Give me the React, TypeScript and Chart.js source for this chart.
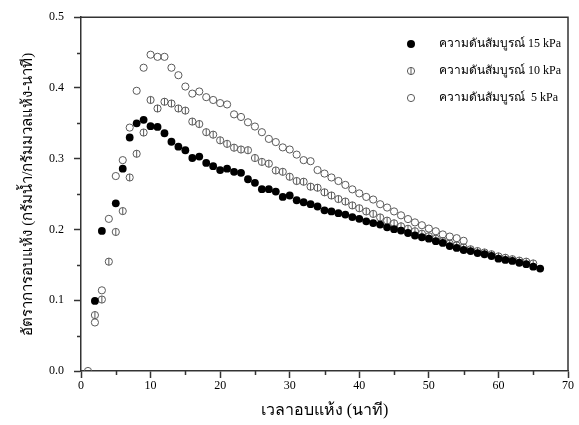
import React, { useEffect, useRef } from "react";
import { Chart, registerables } from "chart.js";

Chart.register(...registerables);

const FONT = "'Liberation Serif', 'Times New Roman', serif";

const xTitle = "เวลาอบแห้ง (นาที)";
const yTitle = "อัตราการอบแห้ง (กรัมน้ำ/กรัมมวลแห้ง-นาที)";

const labels = ["ความดันสัมบูรณ์ 15 kPa", "ความดันสัมบูรณ์ 10 kPa", "ความดันสัมบูรณ์  5 kPa"];

const xMinorTicks = [5, 15, 25, 35, 45, 55, 65];
const yMinorTicks = [0.05, 0.15, 0.25, 0.35, 0.45];

// 15 kPa (filled)
const time15 = [2, 3, 5, 6, 7, 8, 9, 10, 11, 12, 13, 14, 15, 16, 17, 18, 19, 20, 21, 22, 23, 24, 25, 26, 27, 28, 29, 30, 31, 32, 33, 34, 35, 36, 37, 38, 39, 40, 41, 42, 43, 44, 45, 46, 47, 48, 49, 50, 51, 52, 53, 54, 55, 56, 57, 58, 59, 60, 61, 62, 63, 64, 65, 66];
const rate15 = [0.099, 0.198, 0.237, 0.286, 0.330, 0.350, 0.355, 0.346, 0.345, 0.336, 0.324, 0.317, 0.312, 0.301, 0.303, 0.294, 0.2895, 0.284, 0.286, 0.2815, 0.280, 0.271, 0.266, 0.257, 0.257, 0.2535, 0.246, 0.248, 0.2413, 0.2385, 0.2357, 0.2325, 0.227, 0.2255, 0.223, 0.221, 0.2175, 0.215, 0.2115, 0.209, 0.207, 0.203, 0.2005, 0.1985, 0.195, 0.1915, 0.189, 0.187, 0.1835, 0.181, 0.1765, 0.174, 0.171, 0.1695, 0.1667, 0.165, 0.1625, 0.1587, 0.157, 0.1555, 0.153, 0.151, 0.1475, 0.1447];

// 10 kPa (circle with bar)
const time10 = [2, 3, 4, 5, 6, 7, 8, 9, 10, 11, 12, 13, 14, 15, 16, 17, 18, 19, 20, 21, 22, 23, 24, 25, 26, 27, 28, 29, 30, 31, 32, 33, 34, 35, 36, 37, 38, 39, 40, 41, 42, 43, 44, 45, 46, 47, 48, 49, 50, 51, 52, 53, 54, 55, 56, 57, 58, 59, 60, 61, 62, 63, 64, 65];
const rate10 = [0.079, 0.101, 0.1545, 0.1965, 0.226, 0.2735, 0.307, 0.337, 0.383, 0.371, 0.3805, 0.378, 0.371, 0.368, 0.3525, 0.349, 0.3375, 0.334, 0.326, 0.321, 0.3156, 0.313, 0.312, 0.301, 0.2955, 0.293, 0.2834, 0.2815, 0.2745, 0.2685, 0.2675, 0.2605, 0.259, 0.2525, 0.248, 0.243, 0.2395, 0.234, 0.230, 0.2255, 0.222, 0.217, 0.2125, 0.2087, 0.2045, 0.201, 0.1975, 0.194, 0.1905, 0.187, 0.1835, 0.180, 0.1775, 0.1745, 0.172, 0.1695, 0.1675, 0.165, 0.162, 0.160, 0.158, 0.156, 0.1545, 0.152];

// 5 kPa (open)
const time5 = [1, 2, 3, 4, 5, 6, 7, 8, 9, 10, 11, 12, 13, 14, 15, 16, 17, 18, 19, 20, 21, 22, 23, 24, 25, 26, 27, 28, 29, 30, 31, 32, 33, 34, 35, 36, 37, 38, 39, 40, 41, 42, 43, 44, 45, 46, 47, 48, 49, 50, 51, 52, 53, 54, 55];
const rate5 = [0.0, 0.0686, 0.114, 0.215, 0.2755, 0.298, 0.344, 0.396, 0.4286, 0.447, 0.444, 0.444, 0.4286, 0.418, 0.402, 0.392, 0.395, 0.387, 0.383, 0.3786, 0.3767, 0.3627, 0.359, 0.3515, 0.3455, 0.3375, 0.328, 0.3235, 0.316, 0.313, 0.3058, 0.298, 0.2965, 0.284, 0.279, 0.2735, 0.2685, 0.263, 0.2567, 0.251, 0.246, 0.2423, 0.2357, 0.231, 0.2255, 0.22, 0.2147, 0.21, 0.206, 0.2013, 0.1975, 0.193, 0.190, 0.1877, 0.184];

const toPoints = (xs: number[], ys: number[]) => xs.map((x, i) => ({ x, y: ys[i] }));

const R_OPEN = 3.6;
const GRAY = "#5a5a5a";

const barPlugin = {
  id: "barCircle",
  afterDatasetDraw(chart: any, args: any) {
    if (args.index !== 1) return;
    const meta = chart.getDatasetMeta(1);
    const ctx = chart.ctx;
    ctx.save();
    ctx.strokeStyle = GRAY;
    ctx.lineWidth = 1;
    ctx.beginPath();
    meta.data.forEach((el: any) => {
      ctx.moveTo(el.x, el.y - R_OPEN);
      ctx.lineTo(el.x, el.y + R_OPEN);
    });
    ctx.stroke();
    ctx.restore();
  },
};

const framePlugin = {
  id: "frameAndLegend",
  afterDraw(chart: any) {
    const { ctx, chartArea, scales } = chart;
    ctx.save();
    ctx.strokeStyle = "#333";
    ctx.lineWidth = 1.5;
    ctx.beginPath();
    ctx.moveTo(chartArea.left, chartArea.top);
    ctx.lineTo(chartArea.right, chartArea.top);
    ctx.lineTo(chartArea.right, chartArea.bottom);
    ctx.stroke();
    ctx.beginPath();
    xMinorTicks.forEach((v) => {
      const px = Math.round(scales.x.getPixelForValue(v)) + 0.5;
      ctx.moveTo(px, chartArea.bottom);
      ctx.lineTo(px, chartArea.bottom + 4);
    });
    yMinorTicks.forEach((v) => {
      const py = Math.round(scales.y.getPixelForValue(v)) + 0.5;
      ctx.moveTo(chartArea.left, py);
      ctx.lineTo(chartArea.left - 4, py);
    });
    ctx.stroke();

    // legend
    const ds = chart.data.datasets;
    const lx = 411;
    const tx = 439;
    const ys = [44, 71, 98];
    ctx.font = `12px ${FONT}`;
    ctx.textBaseline = "middle";
    ctx.textAlign = "left";
    ds.forEach((d: any, i: number) => {
      const y = ys[i];
      if (i === 0) {
        ctx.fillStyle = "#000";
        ctx.beginPath();
        ctx.arc(lx, y, 4, 0, Math.PI * 2);
        ctx.fill();
      } else {
        ctx.strokeStyle = GRAY;
        ctx.lineWidth = 1;
        ctx.beginPath();
        ctx.arc(lx, y, R_OPEN, 0, Math.PI * 2);
        ctx.stroke();
        if (i === 1) {
          ctx.beginPath();
          ctx.moveTo(lx, y - R_OPEN);
          ctx.lineTo(lx, y + R_OPEN);
          ctx.stroke();
        }
      }
      ctx.fillStyle = "#000";
      ctx.fillText(d.label, tx, y);
    });
    ctx.restore();
  },
};

export default function App() {
  const ref = useRef<HTMLCanvasElement | null>(null);

  useEffect(() => {
    if (!ref.current) return;
    const axisCommon = {
      grid: {
        display: true,
        drawOnChartArea: false,
        drawTicks: true,
        tickLength: 7,
        tickWidth: 1.5,
        tickColor: "#333",
      },
      border: { display: true, color: "#333", width: 1.5 },
    };
    const chart = new Chart(ref.current, {
      type: "scatter",
      data: {
        datasets: [
          {
            label: labels[0],
            data: toPoints(time15, rate15),
            pointStyle: "circle",
            pointRadius: 3.9,
            backgroundColor: "#000",
            borderColor: "#000",
            borderWidth: 0,
          },
          {
            label: labels[1],
            data: toPoints(time10, rate10),
            pointStyle: "circle",
            pointRadius: R_OPEN,
            backgroundColor: "rgba(0,0,0,0)",
            borderColor: GRAY,
            borderWidth: 1,
          },
          {
            label: labels[2],
            data: toPoints(time5, rate5),
            pointStyle: "circle",
            pointRadius: R_OPEN,
            backgroundColor: "rgba(0,0,0,0)",
            borderColor: GRAY,
            borderWidth: 1,
          },
        ],
      },
      options: {
        animation: false,
        responsive: false,
        devicePixelRatio: 1,
        layout: { padding: { top: 14, right: 11, left: 0, bottom: 0 } },
        plugins: {
          legend: { display: false },
          tooltip: { enabled: false },
        },
        scales: {
          x: {
            type: "linear",
            min: 0,
            max: 70,
            ticks: {
              stepSize: 10,
              color: "#000",
              font: { family: FONT, size: 12 },
              padding: 1,
              maxRotation: 0,
              autoSkip: false,
            },
            ...axisCommon,
            title: {
              display: true,
              text: xTitle,
              color: "#000",
              font: { family: FONT, size: 16 },
              padding: { top: 0, bottom: 5 },
            },
            afterFit: (s: any) => {
              s.height = 54;
            },
          },
          y: {
            type: "linear",
            min: 0,
            max: 0.5,
            ticks: {
              stepSize: 0.1,
              color: "#000",
              font: { family: FONT, size: 12 },
              padding: 10,
              callback: (v: any) => Number(v).toFixed(1),
            },
            ...axisCommon,
            title: {
              display: true,
              text: yTitle,
              color: "#000",
              font: { family: FONT, size: 15 },
              padding: { top: 19, bottom: 0 },
            },
            afterFit: (s: any) => {
              s.width = 81;
            },
          },
        },
      },
      plugins: [barPlugin, framePlugin],
    });
    return () => chart.destroy();
  }, []);

  return (
    <div style={{ position: "fixed", left: 0, top: 0, width: 579, height: 425, background: "#fff" }}>
      <canvas ref={ref} width={579} height={425} style={{ width: 579, height: 425 }} />
    </div>
  );
}
